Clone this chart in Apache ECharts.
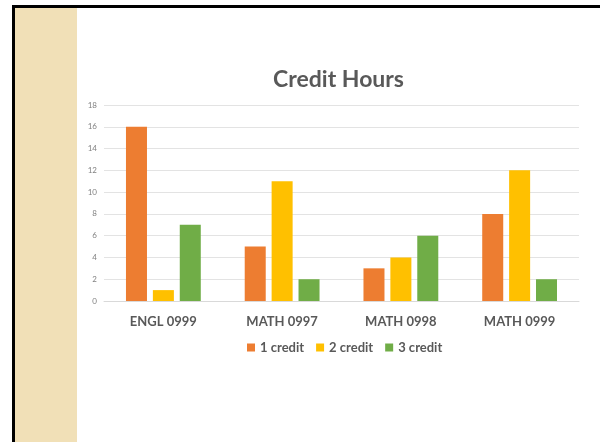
<!DOCTYPE html>
<html>
<head>
<meta charset="utf-8">
<script src="https://cdn.jsdelivr.net/npm/echarts@6/dist/echarts.min.js"></script>
<style>
  body { margin: 0; background: #fff; }
  #frame { position: absolute; left: 12px; top: 5px; width: 588px; height: 437px;
           border-top: 3px solid #000; border-left: 3px solid #000; box-sizing: border-box; }
  #strip { position: absolute; left: 15px; top: 8px; width: 62px; height: 434px; background: #f1e0b7; }
  #main { position: absolute; left: 77px; top: 0; width: 523px; height: 442px; }
</style>
</head>
<body>
<div id="frame"></div>
<div id="strip"></div>
<div id="main"></div>
<script>
var categories = ['ENGL 0999', 'MATH 0997', 'MATH 0998', 'MATH 0999'];
var credit1 = [16, 5, 3, 8];
var credit2 = [1, 11, 4, 12];
var credit3 = [7, 2, 6, 2];

var myChart = echarts.init(document.getElementById('main'));
var font = 'Lato, "Open Sans", sans-serif';
var option = {
    animation: false,
    color: ['#ed7d31', '#ffc000', '#70ad47'],
    title: {
        text: 'Credit Hours',
        left: 'center',
        top: 63,
        textStyle: { fontFamily: font, fontSize: 23, fontWeight: 'bold', color: '#595959' }
    },
    legend: {
        left: 165,
        top: 336,
        itemWidth: 8,
        itemHeight: 8,
        itemGap: 12,
        icon: 'rect',
        textStyle: { fontFamily: font, fontSize: 13, fontWeight: 'bold', color: '#595959' },
        data: ['1 credit', '2 credit', '3 credit']
    },
    grid: { left: 27, right: 21, top: 105, bottom: 141 },
    xAxis: {
        type: 'category',
        data: categories,
        axisTick: { show: false },
        axisLine: { lineStyle: { color: '#d9d9d9' } },
        axisLabel: { fontFamily: font, fontSize: 13, fontWeight: 'bold', color: '#595959', margin: 14 }
    },
    yAxis: {
        type: 'value',
        min: 0,
        max: 18,
        interval: 2,
        axisLabel: { fontFamily: font, fontSize: 8, color: '#7f7f7f', margin: 7 },
        splitLine: { lineStyle: { color: '#e3e3e3' } }
    },
    series: [
        { name: '1 credit', type: 'bar', data: credit1, barGap: '28%', barCategoryGap: '37%' },
        { name: '2 credit', type: 'bar', data: credit2 },
        { name: '3 credit', type: 'bar', data: credit3 }
    ]
};
myChart.setOption(option);
</script>
</body>
</html>
